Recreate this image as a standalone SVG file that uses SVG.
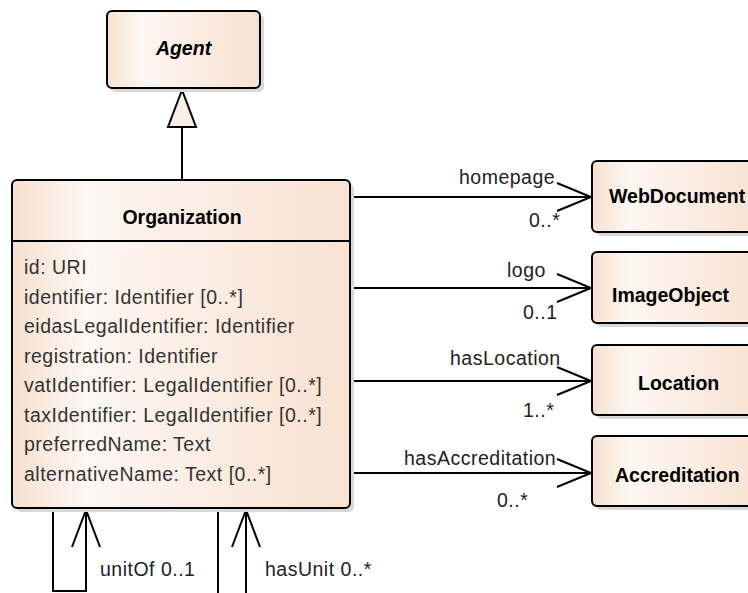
<svg xmlns="http://www.w3.org/2000/svg" width="748" height="593" viewBox="0 0 748 593">
  <defs>
    <linearGradient id="classFill" x1="0" y1="0" x2="1" y2="0">
      <stop offset="0" stop-color="#f6e0cf"/>
      <stop offset="0.22" stop-color="#fdf7f2"/>
      <stop offset="1" stop-color="#f8e1d1"/>
    </linearGradient>
    <style>
      .box { fill: url(#classFill); stroke: #000; stroke-width: 2; }
      .shadow { fill: #d9d9d9; stroke: none; }
      .line { fill: none; stroke: #000; stroke-width: 2; }
      .title { font-family: "Liberation Sans", Arial, sans-serif; font-size: 19.5px; font-weight: bold; fill: #000; }
      .attr { font-family: "Liberation Sans", Arial, sans-serif; font-size: 19.5px; letter-spacing: 0.5px; fill: #333; }
      .lbl { font-family: "Liberation Sans", Arial, sans-serif; font-size: 19.5px; letter-spacing: 0.5px; fill: #222; }
    </style>
  </defs>
  <rect width="748" height="593" fill="#fff"/>

  <!-- connectors -->
  <g id="connectors">
    <!-- generalization Organization -> Agent -->
    <line class="line" x1="182" y1="127" x2="182" y2="180"/>
    <polygon points="182,90 168,127 196,127" fill="#fbeee4" stroke="#000" stroke-width="2" stroke-linejoin="miter"/>

    <!-- homepage -->
    <line class="line" x1="350" y1="197" x2="592" y2="197"/>
    <polyline class="line" points="557,183 591,197 557,211"/>
    <!-- logo -->
    <line class="line" x1="350" y1="288" x2="592" y2="288"/>
    <polyline class="line" points="557,274 591,288 557,302"/>
    <!-- hasLocation -->
    <line class="line" x1="350" y1="381" x2="592" y2="381"/>
    <polyline class="line" points="557,367 591,381 557,395"/>
    <!-- hasAccreditation -->
    <line class="line" x1="350" y1="473" x2="592" y2="473"/>
    <polyline class="line" points="557,459 591,473 557,487"/>

    <!-- unitOf self association -->
    <polyline class="line" points="53,509 53,591 86,591 86,510"/>
    <polyline class="line" points="72,547 86,510 100,547"/>
    <!-- hasUnit self association -->
    <line class="line" x1="218" y1="509" x2="218" y2="593"/>
    <line class="line" x1="246" y1="510" x2="246" y2="593"/>
    <polyline class="line" points="232,547 246,510 260,547"/>

    <!-- role and multiplicity labels -->
    <text class="lbl" x="459" y="184">homepage</text>
    <text class="lbl" x="529" y="227">0..*</text>
    <text class="lbl" x="507" y="277">logo</text>
    <text class="lbl" x="523" y="319">0..1</text>
    <text class="lbl" x="450" y="365">hasLocation</text>
    <text class="lbl" x="523" y="417">1..*</text>
    <text class="lbl" x="404" y="465">hasAccreditation</text>
    <text class="lbl" x="497" y="507">0..*</text>
    <text class="lbl" x="100" y="576">unitOf 0..1</text>
    <text class="lbl" x="265" y="576">hasUnit 0..*</text>
  </g>

  <!-- Agent (abstract) -->
  <g id="agent">
    <rect class="shadow" x="111" y="15" width="153" height="77" rx="5"/>
    <rect class="box" x="107" y="11" width="153" height="77" rx="5"/>
    <text class="title" x="183.5" y="55" text-anchor="middle" font-style="italic">Agent</text>
  </g>

  <!-- Organization -->
  <g id="organization">
    <rect class="shadow" x="16" y="184" width="338" height="328" rx="5"/>
    <rect class="box" x="12" y="180" width="338" height="328" rx="5"/>
    <line class="line" x1="12" y1="241" x2="350" y2="241"/>
    <text class="title" x="182" y="224" text-anchor="middle">Organization</text>
    <text class="attr" x="24" y="274">id: URI</text>
    <text class="attr" x="24" y="303.5">identifier: Identifier [0..*]</text>
    <text class="attr" x="24" y="333">eidasLegalIdentifier: Identifier</text>
    <text class="attr" x="24" y="362.5">registration: Identifier</text>
    <text class="attr" x="24" y="392">vatIdentifier: LegalIdentifier [0..*]</text>
    <text class="attr" x="24" y="421.5">taxIdentifier: LegalIdentifier [0..*]</text>
    <text class="attr" x="24" y="451">preferredName: Text</text>
    <text class="attr" x="24" y="480.5">alternativeName: Text [0..*]</text>
  </g>

  <!-- WebDocument -->
  <g id="webdocument">
    <rect class="shadow" x="596" y="165" width="170" height="71" rx="5"/>
    <rect class="box" x="592" y="161" width="170" height="71" rx="5"/>
    <text class="title" x="609" y="203">WebDocument</text>
  </g>

  <!-- ImageObject -->
  <g id="imageobject">
    <rect class="shadow" x="596" y="256" width="170" height="71" rx="5"/>
    <rect class="box" x="592" y="252" width="170" height="71" rx="5"/>
    <text class="title" x="612" y="302">ImageObject</text>
  </g>

  <!-- Location -->
  <g id="location">
    <rect class="shadow" x="596" y="349" width="170" height="70" rx="5"/>
    <rect class="box" x="592" y="345" width="170" height="70" rx="5"/>
    <text class="title" x="638" y="390">Location</text>
  </g>

  <!-- Accreditation -->
  <g id="accreditation">
    <rect class="shadow" x="596" y="440" width="170" height="70" rx="5"/>
    <rect class="box" x="592" y="436" width="170" height="70" rx="5"/>
    <text class="title" x="615" y="482">Accreditation</text>
  </g>
</svg>
